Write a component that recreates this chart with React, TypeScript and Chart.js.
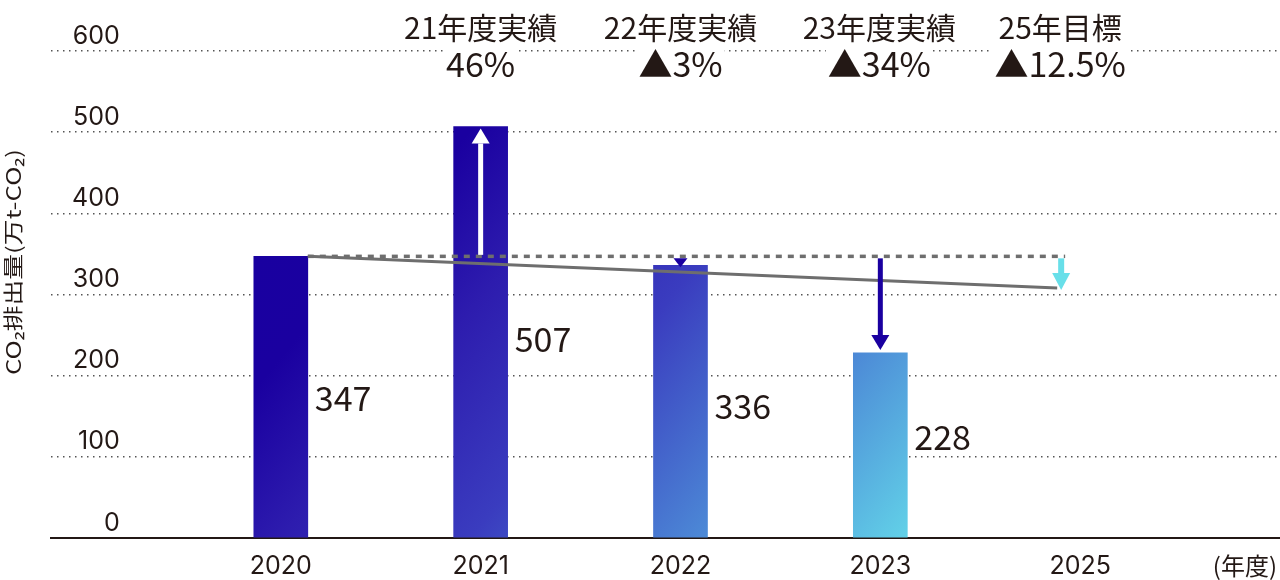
import React, { useEffect, useRef } from "react";
import { Chart, registerables } from "chart.js";

Chart.register(...registerables);

// ---- data ----
const categories = ["2020", "2021", "2022", "2023", "2025"];
const emissions: (number | null)[] = [347, 507, 336, 228, null];
const baselineValue = 347; // 2020 level (dashed reference)
const target2025 = 308; // end of the target path
const yTickValues = [0, 100, 200, 300, 400, 500, 600];
const annoTitles = ["21年度実績", "22年度実績", "23年度実績", "25年目標"];
const annoRates = ["46%", "▲3%", "▲34%", "▲12.5%"];
const yTitle = "CO₂排出量(万t-CO₂)";
const xUnit = "(年度)";

// ---- layout / style ----
const FONT = '"Noto Sans CJK JP", "Noto Sans", sans-serif';
const NUM_FONT = 'Inter, "Noto Sans CJK JP", sans-serif';
const TEXT = "#231815";
const BAR_W = 54;
const TARGET_SHIFT = -19;
const annoShift = [0, 0, -1, -20];
const valueLabelDy = [14, 20, 18, 5];

function drawArrow(
  ctx: CanvasRenderingContext2D,
  x: number,
  y0: number,
  y1: number,
  color: string,
  shaft: number,
  headW: number,
  headH: number
) {
  const dir = y1 > y0 ? 1 : -1;
  const headBase = y1 - dir * headH;
  ctx.fillStyle = color;
  if (shaft > 0 && (headBase - y0) * dir > 0) {
    ctx.fillRect(x - shaft / 2, Math.min(y0, headBase), shaft, Math.abs(headBase - y0) + 0.5);
  }
  ctx.beginPath();
  ctx.moveTo(x - headW / 2, headBase);
  ctx.lineTo(x + headW / 2, headBase);
  ctx.lineTo(x, y1);
  ctx.closePath();
  ctx.fill();
}

const overlayPlugin = {
  id: "overlay",
  afterDatasetsDraw(chart: any) {
    const ctx: CanvasRenderingContext2D = chart.ctx;
    const xs = chart.scales.x;
    const ys = chart.scales.y;
    const area = chart.chartArea;
    const meta = chart.getDatasetMeta(0);
    const half = BAR_W / 2;
    const yBase = ys.getPixelForValue(baselineValue);
    const startX = xs.getPixelForValue(0) + half;
    const targetX = xs.getPixelForValue(4) + TARGET_SHIFT;
    const yTarget = ys.getPixelForValue(target2025);

    ctx.save();
    // dashed reference line
    ctx.strokeStyle = "#6e6e6e";
    ctx.lineWidth = 3.5;
    ctx.setLineDash([6, 6]);
    ctx.beginPath();
    ctx.moveTo(startX, yBase);
    ctx.lineTo(targetX + 4, yBase);
    ctx.stroke();
    ctx.setLineDash([]);
    // target path
    ctx.lineWidth = 3;
    ctx.beginPath();
    ctx.moveTo(startX, yBase);
    ctx.lineTo(targetX - 4, yTarget);
    ctx.stroke();

    // arrows
    const y21 = ys.getPixelForValue(emissions[1] as number);
    const y22 = ys.getPixelForValue(emissions[2] as number);
    const y23 = ys.getPixelForValue(emissions[3] as number);
    drawArrow(ctx, xs.getPixelForValue(1), yBase - 2, y21 + 2, "#ffffff", 5, 18, 15);
    drawArrow(ctx, xs.getPixelForValue(2), yBase + 2, y22 + 2, "#1a00a0", 0, 14, y22 - yBase);
    drawArrow(ctx, xs.getPixelForValue(3), yBase + 2, y23 - 3, "#1a00a0", 5, 18, 15);
    drawArrow(ctx, targetX, yBase + 2, yTarget + 2, "#68dfe9", 6, 18, 17);

    // value labels
    ctx.fillStyle = TEXT;
    ctx.font = `34px ${FONT}`;
    ctx.textAlign = "left";
    ctx.textBaseline = "alphabetic";
    emissions.forEach((v, i) => {
      if (v == null) return;
      const bar = meta.data[i];
      const mid = (bar.y + bar.base) / 2;
      ctx.fillText(String(v), bar.x + half + 7, mid + valueLabelDy[i]);
    });

    // top annotations
    ctx.textAlign = "center";
    annoTitles.forEach((t, i) => {
      const cx = xs.getPixelForValue(i + 1) + annoShift[i];
      ctx.fillStyle = TEXT;
      ctx.font = `30px ${FONT}`;
      ctx.fillText(t, cx, area.top - 12.5);
      ctx.font = `34px ${FONT}`;
      const w = ctx.measureText(annoRates[i]).width;
      ctx.fillStyle = "#ffffff";
      ctx.fillRect(cx - w / 2 - 2, area.top - 4, w + 4, 34);
      ctx.fillStyle = TEXT;
      ctx.fillText(annoRates[i], cx, area.top + 26);
    });

    // y title (glyphs appear stretched along the text direction)
    ctx.save();
    ctx.translate(13, 262);
    ctx.rotate(-Math.PI / 2);
    ctx.scale(1.29, 1);
    ctx.font = `20px ${FONT}`;
    ctx.textAlign = "center";
    ctx.textBaseline = "middle";
    ctx.fillStyle = TEXT;
    ctx.fillText(yTitle, 0, 0);
    ctx.restore();

    // x unit
    ctx.font = `24px ${FONT}`;
    ctx.textAlign = "right";
    ctx.textBaseline = "middle";
    ctx.fillStyle = TEXT;
    ctx.fillText(xUnit, 1277, area.bottom + 28);
    ctx.restore();
  },
};

export default function App() {
  const ref = useRef<HTMLCanvasElement | null>(null);
  useEffect(() => {
    if (!ref.current) return;
    const maxVal = Math.max(...(emissions.filter((v) => v != null) as number[]));
    const chart = new Chart(ref.current, {
      type: "bar",
      data: {
        datasets: [
          {
            data: emissions.map((v, i) => ({ x: i, y: v })) as any,
            barThickness: BAR_W,
            borderWidth: 0,
            backgroundColor: (c: any) => {
              const ch = c.chart;
              const xs = ch.scales.x;
              const ys = ch.scales.y;
              if (!ch.chartArea || !xs || !ys) return "#1a00a0";
              const x0 = xs.getPixelForValue(0) - BAR_W / 2;
              const y0 = ys.getPixelForValue(maxVal);
              const g = ch.ctx.createLinearGradient(x0, y0, x0 + 589, y0 + 491);
              g.addColorStop(0, "#1800a0");
              g.addColorStop(0.22, "#1a00a0");
              g.addColorStop(0.37, "#2d1cae");
              g.addColorStop(0.56, "#3a3cbf");
              g.addColorStop(0.79, "#4c88d6");
              g.addColorStop(1, "#62d2e8");
              return g;
            },
          },
        ],
      },
      options: {
        responsive: false,
        animation: false,
        devicePixelRatio: 1,
        layout: { padding: { top: 51, left: 0, right: 0, bottom: 0 } },
        plugins: {
          legend: { display: false },
          tooltip: { enabled: false },
          title: { display: false },
        },
        scales: {
          x: {
            type: "linear",
            offset: false,
            min: -1.15,
            max: 5.0,
            grid: { display: false, drawTicks: false, offset: false },
            border: { display: true, color: TEXT, width: 2 },
            afterBuildTicks: (s: any) => {
              s.ticks = categories.map((_, i) => ({ value: i }));
            },
            afterFit: (s: any) => {
              s.height = 42;
            },
            ticks: {
              callback: (v: any) => categories[v] ?? "",
              padding: 13,
              maxRotation: 0,
              autoSkip: false,
              color: TEXT,
              font: { size: 25, family: NUM_FONT },
            },
          },
          y: {
            min: 0,
            max: 600,
            afterBuildTicks: (s: any) => {
              s.ticks = yTickValues.map((v) => ({ value: v }));
            },
            afterFit: (s: any) => {
              s.width = 51;
            },
            grid: {
              drawTicks: false,
              lineWidth: 1.5,
              color: (c: any) => (c.tick && c.tick.value === 0 ? "rgba(0,0,0,0)" : "#555555"),
            },
            border: { display: false, dash: [1.5, 4.5] },
            ticks: {
              mirror: true,
              crossAlign: "far",
              padding: 21,
              labelOffset: -15,
              color: TEXT,
              font: { size: 25, family: NUM_FONT },
            },
          },
        },
      },
      plugins: [overlayPlugin],
    } as any);
    return () => chart.destroy();
  }, []);
  return (
    <div style={{ position: "fixed", left: 0, top: 0, width: 1280, height: 580, background: "#fff" }}>
      <canvas ref={ref} width={1280} height={580} style={{ display: "block", width: 1280, height: 580 }} />
    </div>
  );
}
